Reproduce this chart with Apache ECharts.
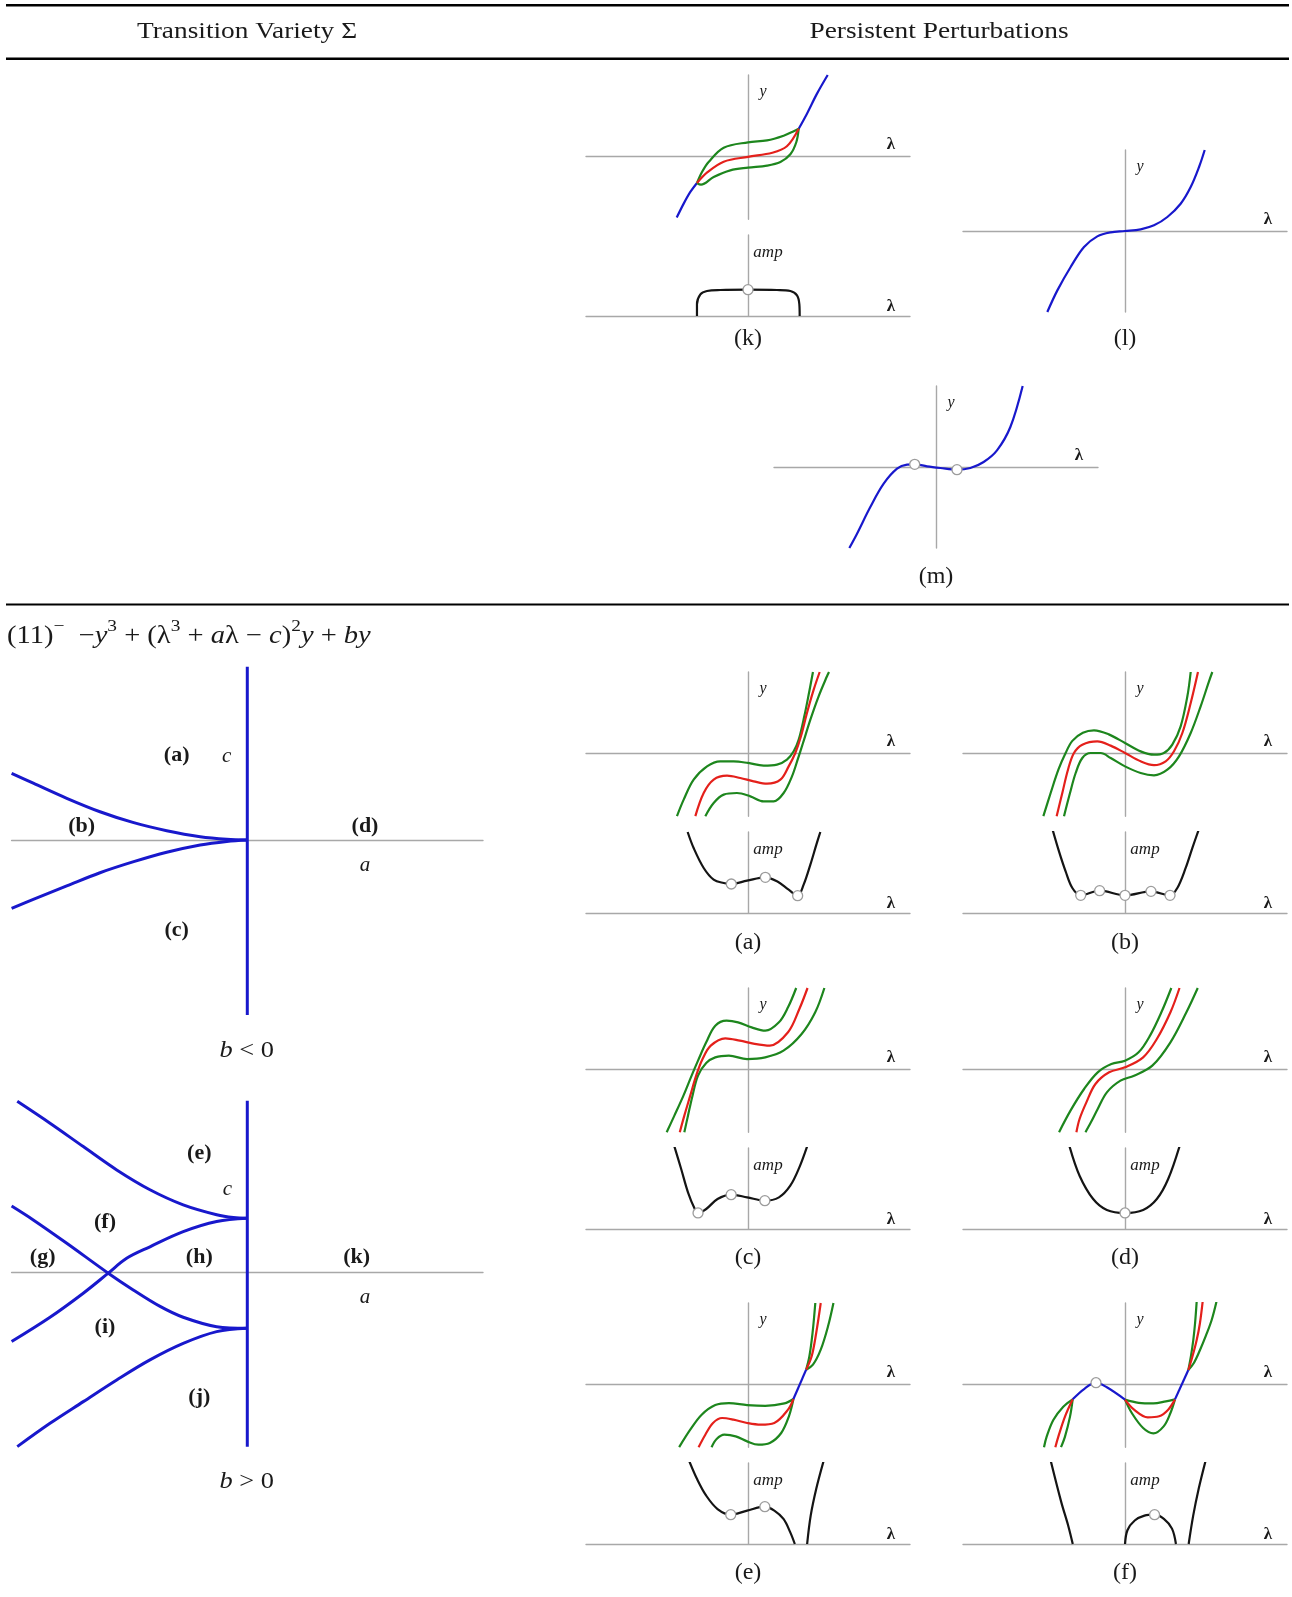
<!DOCTYPE html>
<html>
<head>
<meta charset="utf-8">
<script src="https://cdn.jsdelivr.net/npm/echarts/dist/echarts.min.js"></script>
<style>
  html, body { margin: 0; padding: 0; background: #fff; }
  #fig { width: 1292px; height: 1597px; }
</style>
</head>
<body>
<div id="fig"></div>
<script>
// ---------- curve samples (lambda, y) / (lambda, amp) in axis units ----------
// (k) symmetric loop
const kBlueLeft  = [[-0.88,-0.76],[-0.794,-0.588],[-0.712,-0.444],[-0.63,-0.333]];
const kBlueRight = [[0.626,0.337],[0.728,0.523],[0.852,0.77],[0.984,1.0]];
const kGreenUp   = [[-0.63,-0.333],[-0.568,-0.198],[-0.486,-0.074],[-0.3,0.103],[0,0.169],[0.235,0.193],[0.44,0.251],[0.564,0.305],[0.626,0.337]];
const kGreenLow  = [[-0.63,-0.333],[-0.58,-0.354],[-0.424,-0.259],[-0.218,-0.177],[0,-0.144],[0.235,-0.119],[0.4,-0.074],[0.523,0.021],[0.597,0.173],[0.626,0.337]];
const kRed       = [[-0.63,-0.333],[-0.5,-0.2],[-0.3,-0.07],[0,-0.01],[0.3,0.04],[0.48,0.12],[0.626,0.337]];
const kAmp       = [[-0.63,0],[-0.63,0.144],[-0.588,0.267],[-0.506,0.309],[-0.342,0.321],[0,0.325],[0.358,0.321],[0.523,0.309],[0.605,0.255],[0.634,0.144],[0.638,0]];
const kAmpDots   = [[0,0.325]];
// (l)
const lBlue = [[-0.959,-1.0],[-0.835,-0.733],[-0.671,-0.444],[-0.506,-0.198],[-0.342,-0.066],[-0.177,-0.016],[0,0],[0.193,0.021],[0.358,0.07],[0.523,0.173],[0.687,0.337],[0.811,0.543],[0.914,0.79],[0.984,1.0]];
// (m)
const mBlue = [[-1.07,-1.0],[-0.975,-0.823],[-0.811,-0.494],[-0.646,-0.206],[-0.481,-0.021],[-0.358,0.029],[-0.263,0.033],[-0.111,0.008],[0.053,-0.012],[0.259,-0.033],[0.424,-0.012],[0.588,0.062],[0.753,0.206],[0.918,0.494],[1.07,1.0]];
const mDots = [[-0.263,0.033],[0.259,-0.033]];
// (a)
const aGreenUp  = [[-0.877,-0.78],[-0.794,-0.576],[-0.671,-0.329],[-0.506,-0.165],[-0.342,-0.103],[-0.177,-0.103],[0,-0.123],[0.193,-0.156],[0.358,-0.144],[0.481,-0.082],[0.564,0.021],[0.626,0.165],[0.695,0.453],[0.753,0.741],[0.802,1.0]];
const aRed      = [[-0.65,-0.78],[-0.547,-0.494],[-0.424,-0.329],[-0.259,-0.28],[-0.095,-0.309],[0.07,-0.35],[0.235,-0.379],[0.4,-0.329],[0.502,-0.165],[0.584,0],[0.654,0.206],[0.728,0.494],[0.811,0.782],[0.885,1.0]];
const aGreenLow = [[-0.527,-0.78],[-0.424,-0.617],[-0.3,-0.514],[-0.136,-0.494],[0.029,-0.535],[0.193,-0.597],[0.317,-0.597],[0.44,-0.494],[0.543,-0.288],[0.613,-0.082],[0.679,0.123],[0.77,0.412],[0.872,0.7],[0.975,0.947],[1.0,1.0]];
const aAmp      = [[-0.745,1.0],[-0.671,0.802],[-0.547,0.556],[-0.424,0.412],[-0.3,0.37],[-0.206,0.358],[-0.012,0.399],[0.214,0.44],[0.358,0.391],[0.502,0.288],[0.613,0.214],[0.687,0.35],[0.77,0.597],[0.844,0.844],[0.893,1.0]];
const aAmpDots  = [[-0.206,0.358],[0.214,0.44],[0.613,0.214]];
// (b)
const bGreenUp  = [[-1.008,-0.78],[-0.918,-0.494],[-0.82,-0.2],[-0.733,0],[-0.65,0.15],[-0.52,0.25],[-0.383,0.28],[-0.2,0.23],[0,0.123],[0.193,0.02],[0.358,-0.021],[0.48,0],[0.584,0.103],[0.687,0.329],[0.77,0.7],[0.811,1.0]];
const bRed      = [[-0.844,-0.78],[-0.774,-0.494],[-0.704,-0.206],[-0.63,0],[-0.527,0.103],[-0.342,0.144],[-0.177,0.091],[0,0],[0.193,-0.103],[0.358,-0.15],[0.502,-0.103],[0.605,0.021],[0.708,0.247],[0.811,0.617],[0.901,1.0]];
const bGreenLow = [[-0.753,-0.78],[-0.679,-0.494],[-0.609,-0.247],[-0.527,-0.062],[-0.424,0],[-0.3,0],[-0.177,-0.062],[0,-0.165],[0.193,-0.247],[0.358,-0.275],[0.523,-0.206],[0.667,-0.041],[0.811,0.247],[0.934,0.576],[1.037,0.885],[1.078,1.0]];
const bAmp      = [[-0.897,1.04],[-0.815,0.761],[-0.733,0.514],[-0.65,0.309],[-0.547,0.218],[-0.313,0.276],[0,0.218],[0.321,0.267],[0.556,0.218],[0.646,0.309],[0.749,0.556],[0.831,0.802],[0.914,1.04]];
const bAmpDots  = [[-0.547,0.218],[-0.313,0.276],[0,0.218],[0.321,0.267],[0.556,0.218]];
// (c)
const cGreenUp  = [[-1.004,-0.78],[-0.909,-0.576],[-0.797,-0.329],[-0.696,-0.082],[-0.617,0.103],[-0.516,0.329],[-0.404,0.535],[-0.264,0.597],[-0.123,0.576],[0.045,0.514],[0.213,0.473],[0.382,0.576],[0.494,0.761],[0.595,1.0]];
const cRed      = [[-0.842,-0.78],[-0.786,-0.576],[-0.713,-0.329],[-0.64,-0.082],[-0.561,0.123],[-0.46,0.288],[-0.28,0.379],[-0.1,0.35],[0.08,0.31],[0.269,0.288],[0.494,0.453],[0.634,0.741],[0.735,1.0]];
const cGreenLow = [[-0.786,-0.78],[-0.741,-0.576],[-0.685,-0.329],[-0.617,-0.082],[-0.516,0.074],[-0.404,0.144],[-0.236,0.165],[-0.011,0.123],[0.213,0.144],[0.438,0.226],[0.662,0.432],[0.83,0.7],[0.943,1.0]];
const cAmp      = [[-0.909,1.02],[-0.825,0.741],[-0.741,0.453],[-0.657,0.247],[-0.617,0.198],[-0.516,0.247],[-0.376,0.37],[-0.208,0.424],[-0.011,0.391],[0.208,0.35],[0.382,0.391],[0.522,0.535],[0.634,0.761],[0.73,1.02]];
const cAmpDots  = [[-0.617,0.198],[-0.208,0.424],[0.208,0.35]];
// (d)
const dGreenUp  = [[-0.814,-0.78],[-0.673,-0.514],[-0.505,-0.247],[-0.337,-0.041],[-0.168,0.062],[0,0.103],[0.168,0.206],[0.309,0.412],[0.449,0.7],[0.572,1.0]];
const dRed      = [[-0.6,-0.78],[-0.561,-0.617],[-0.477,-0.412],[-0.365,-0.185],[-0.196,-0.041],[0,0.021],[0.224,0.144],[0.393,0.37],[0.561,0.7],[0.673,1.0]];
const dGreenLow = [[-0.488,-0.78],[-0.421,-0.658],[-0.337,-0.494],[-0.224,-0.288],[-0.056,-0.144],[0.112,-0.082],[0.337,0.041],[0.561,0.329],[0.758,0.7],[0.898,1.0]];
const dAmp      = [[-0.685,1.02],[-0.561,0.658],[-0.393,0.37],[-0.224,0.235],[0,0.198],[0.224,0.235],[0.393,0.37],[0.533,0.617],[0.673,1.02]];
const dAmpDots  = [[0,0.198]];
// (e)
const eBlue       = [[0.561,-0.185],[0.718,0.177]];
const eGreenSteep = [[0.718,0.177],[0.758,0.342],[0.797,0.63],[0.831,1.0]];
const eRedUp      = [[0.718,0.177],[0.786,0.342],[0.842,0.63],[0.898,1.0]];
const eGreenWide  = [[0.718,0.177],[0.802,0.239],[0.898,0.424],[0.988,0.712],[1.055,1.0]];
const eGreenA     = [[0.561,-0.185],[0.45,-0.24],[0.213,-0.27],[-0.011,-0.26],[-0.236,-0.236],[-0.404,-0.26],[-0.572,-0.379],[-0.713,-0.564],[-0.85,-0.78]];
const eRed        = [[0.561,-0.185],[0.494,-0.317],[0.325,-0.481],[0.157,-0.502],[-0.011,-0.481],[-0.18,-0.44],[-0.32,-0.42],[-0.432,-0.481],[-0.527,-0.626],[-0.61,-0.78]];
const eGreenB     = [[0.561,-0.185],[0.505,-0.399],[0.41,-0.605],[0.269,-0.728],[0.129,-0.749],[-0.011,-0.708],[-0.152,-0.646],[-0.292,-0.626],[-0.387,-0.679],[-0.45,-0.78]];
const eAmpLeft    = [[-0.724,1.02],[-0.629,0.802],[-0.516,0.597],[-0.376,0.432],[-0.213,0.362],[-0.011,0.412],[0.208,0.461],[0.325,0.412],[0.438,0.309],[0.522,0.144],[0.578,0]];
const eAmpRight   = [[0.73,0],[0.774,0.35],[0.842,0.679],[0.932,1.02]];
const eAmpDots    = [[-0.213,0.362],[0.208,0.461]];
// (f)
const fBlueLeft   = [[-0.646,-0.189],[-0.505,-0.062],[-0.358,0.016],[-0.224,-0.041],[0,-0.193]];
const fBlueRight  = [[0.617,-0.19],[0.782,0.173]];
const fDots       = [[-0.358,0.016]];
const fGreenSteep = [[0.782,0.173],[0.815,0.35],[0.843,0.543],[0.865,0.75],[0.885,1.02]];
const fRedUp      = [[0.782,0.173],[0.83,0.33],[0.885,0.543],[0.925,0.75],[0.959,1.02]];
const fGreenWide  = [[0.782,0.173],[0.85,0.26],[0.926,0.42],[1.0,0.6],[1.07,0.79],[1.13,1.02]];
const fGreenMidA  = [[0,-0.193],[0.168,-0.232],[0.35,-0.24],[0.505,-0.214],[0.617,-0.19]];
const fRedMid     = [[0,-0.193],[0.112,-0.317],[0.281,-0.412],[0.421,-0.399],[0.533,-0.317],[0.617,-0.19]];
const fGreenMidB  = [[0,-0.193],[0.084,-0.358],[0.224,-0.543],[0.35,-0.61],[0.477,-0.523],[0.561,-0.358],[0.617,-0.19]];
const fGreenLeftA = [[-0.646,-0.189],[-0.762,-0.28],[-0.885,-0.444],[-0.967,-0.65],[-1.0,-0.78]];
const fRedLeft    = [[-0.646,-0.189],[-0.741,-0.403],[-0.823,-0.65],[-0.86,-0.78]];
const fGreenLeftB = [[-0.646,-0.189],[-0.679,-0.403],[-0.741,-0.65],[-0.79,-0.78]];
const fAmpLeft    = [[-0.915,1.02],[-0.786,0.514],[-0.701,0.226],[-0.645,0]];
const fAmpArch    = [[0,0],[0.03,0.17],[0.12,0.29],[0.24,0.35],[0.365,0.362],[0.48,0.31],[0.58,0.19],[0.629,0]];
const fAmpRight   = [[0.786,0],[0.842,0.35],[0.909,0.679],[0.993,1.02]];
const fAmpDots    = [[0.365,0.362]];
// transition varieties in the (a, c) plane
const negUpper = [[-1,0.283],[-0.908,0.241],[-0.766,0.177],[-0.625,0.12],[-0.482,0.0735],[-0.342,0.0396],[-0.2,0.014],[-0.087,0.003],[0,0]];
const negLower = [[-1,-0.29],[-0.908,-0.252],[-0.766,-0.195],[-0.625,-0.139],[-0.482,-0.092],[-0.342,-0.052],[-0.2,-0.021],[-0.087,-0.006],[0,0]];
const negStem  = [[0,0.735],[0,-0.742]];
const posTop        = [[-0.976,0.727],[-0.837,0.634],[-0.696,0.535],[-0.554,0.436],[-0.413,0.352],[-0.272,0.288],[-0.13,0.246],[-0.059,0.234],[0,0.231]];
const posUpperCross = [[0,0.231],[-0.13,0.217],[-0.272,0.174],[-0.413,0.11],[-0.512,0.061],[-0.59,-0.002],[-0.696,-0.087],[-0.837,-0.189],[-1,-0.292]];
const posLowerCross = [[0,-0.236],[-0.13,-0.229],[-0.272,-0.189],[-0.37,-0.143],[-0.484,-0.073],[-0.59,-0.002],[-0.766,0.125],[-0.908,0.224],[-1,0.283]];
const posBottom     = [[0,-0.236],[-0.13,-0.25],[-0.272,-0.3],[-0.413,-0.37],[-0.554,-0.455],[-0.696,-0.547],[-0.837,-0.639],[-0.976,-0.738]];
const posStem       = [[0,0.73],[0,-0.738]];

// ---------- styling / layout ----------
const COL = { blue: '#1818cc', green: '#1d861d', red: '#e4201b', black: '#141414', axis: '#a8a8a8', dot: '#9c9c9c', text: '#1a1a1a' };
const U = 81;                     // pixels per axis unit in the small panels
const XR = [-2, 2], YR = [-0.78, 1], YR2 = [-1, 1], AR = [0, 1];
const SERIF = '"Liberation Serif", "DejaVu Serif", serif';

const grids = [], xAxes = [], yAxes = [], series = [], graphics = [];

function addGrid(left, top, width, height, xr, yr, showY) {
  const i = grids.length;
  grids.push({ left, top, width, height, containLabel: false });
  const line = { show: true, onZero: true, lineStyle: { color: COL.axis, width: 1.4 } };
  xAxes.push({ gridIndex: i, type: 'value', min: xr[0], max: xr[1], axisLine: line,
    axisTick: { show: false }, axisLabel: { show: false }, splitLine: { show: false } });
  yAxes.push({ gridIndex: i, type: 'value', min: yr[0], max: yr[1],
    axisLine: Object.assign({}, line, { show: showY !== false }),
    axisTick: { show: false }, axisLabel: { show: false }, splitLine: { show: false } });
  return i;
}
function curve(i, data, color, width) {
  series.push({ type: 'line', xAxisIndex: i, yAxisIndex: i, data, smooth: 0.35, symbol: 'none',
    lineStyle: { color, width: width || 2.2 }, silent: true, z: 3 });
}
function points(i, data) {
  if (!data || !data.length) return;
  series.push({ type: 'scatter', xAxisIndex: i, yAxisIndex: i, data, symbol: 'circle', symbolSize: 10,
    itemStyle: { color: '#fff', borderColor: COL.dot, borderWidth: 1.3, opacity: 1 }, silent: true, z: 6 });
}
function text(x, y, str, font, extra, el) {
  graphics.push(Object.assign({ type: 'text', x, y, z: 10, silent: true,
    style: Object.assign({ text: str, font, fill: COL.text, textAlign: 'center', textVerticalAlign: 'middle', verticalAlign: 'middle' }, extra || {}) }, el || {}));
}
function hrule(y, w) {
  graphics.push({ type: 'line', z: 10, silent: true, shape: { x1: 6, y1: y, x2: 1289, y2: y }, style: { stroke: '#000', lineWidth: w } });
}

const F_AX = 'italic 16px ' + SERIF;
const F_AMP = 'italic 17px ' + SERIF;
const F_LAM = 'bold 17px ' + SERIF;
const F_CAP = '24px ' + SERIF;

// state-space panel: curves in (lambda, y)
function yPanel(cx, top, yr, lines, dots) {
  const h = (yr[1] - yr[0]) * U;
  const i = addGrid(cx - 2 * U, top, 4 * U, h, XR, yr);
  lines.forEach(l => curve(i, l[0], l[1]));
  points(i, dots);
  const oy = top + yr[1] * U;
  text(cx + 15, oy - 64, 'y', F_AX);
  text(cx + 143, oy - 11, 'λ', F_LAM);
}
// amplitude panel: curves in (lambda, amp)
function ampPanel(cx, top, lines, dots) {
  const i = addGrid(cx - 2 * U, top, 4 * U, U, XR, AR);
  lines.forEach(l => curve(i, l[0], l[1]));
  points(i, dots);
  const oy = top + U;
  text(cx + 20, oy - 63, 'amp', F_AMP);
  text(cx + 143, oy - 9, 'λ', F_LAM);
}

const C1 = 748, C2 = 1125, CM = 936;
const g = COL.green, r = COL.red, b = COL.blue, k = COL.black;

// row (k) / (l)
yPanel(C1, 75, YR, [[kBlueLeft, b], [kBlueRight, b], [kGreenUp, g], [kGreenLow, g], [kRed, r]]);
ampPanel(C1, 235, [[kAmp, k]], kAmpDots);
text(C1, 339, '(k)', F_CAP);
yPanel(C2, 150, YR2, [[lBlue, b]]);
text(C2, 339, '(l)', F_CAP);
// row (m)
yPanel(CM, 386, YR2, [[mBlue, b]], mDots);
text(CM, 577, '(m)', F_CAP);
// rows (a)-(f)
const ROWS = [
  { top: 672, cap: 943, left: ['(a)', [[aGreenUp, g], [aGreenLow, g], [aRed, r]], [[aAmp, k]], aAmpDots, []],
                        right: ['(b)', [[bGreenUp, g], [bGreenLow, g], [bRed, r]], [[bAmp, k]], bAmpDots, []] },
  { top: 988, cap: 1258, left: ['(c)', [[cGreenUp, g], [cGreenLow, g], [cRed, r]], [[cAmp, k]], cAmpDots, []],
                         right: ['(d)', [[dGreenUp, g], [dGreenLow, g], [dRed, r]], [[dAmp, k]], dAmpDots, []] },
  { top: 1303, cap: 1573,
    left: ['(e)', [[eGreenA, g], [eGreenB, g], [eRed, r], [eGreenSteep, g], [eGreenWide, g], [eRedUp, r], [eBlue, b]],
           [[eAmpLeft, k], [eAmpRight, k]], eAmpDots, []],
    right: ['(f)', [[fGreenMidA, g], [fGreenMidB, g], [fRedMid, r], [fGreenLeftA, g], [fGreenLeftB, g], [fRedLeft, r],
                    [fGreenSteep, g], [fGreenWide, g], [fRedUp, r], [fBlueLeft, b], [fBlueRight, b]],
            [[fAmpLeft, k], [fAmpArch, k], [fAmpRight, k]], fAmpDots, fDots] }
];
ROWS.forEach(row => {
  [[C1, row.left], [C2, row.right]].forEach(([cx, p]) => {
    yPanel(cx, row.top, YR, p[1], p[4]);
    ampPanel(cx, row.top + 160, p[2], p[3]);
    text(cx, row.cap, p[0], F_CAP);
  });
});

// ---------- (a, c) plane diagrams ----------
const AU = 235.7;                 // pixels per unit in the (a, c) plane
const CR = [-0.745, 0.745];
function planePanel(originY, lines) {
  const i = addGrid(247.3 - AU, originY - CR[1] * AU, 2 * AU, (CR[1] - CR[0]) * AU, [-1, 1], CR, false);
  lines.forEach(l => curve(i, l, COL.blue, 3));
}
planePanel(840, [negUpper, negLower, negStem]);
planePanel(1272.7, [posTop, posUpperCross, posLowerCross, posBottom, posStem]);

const F_REG = 'bold 22px ' + SERIF;
const F_VAR = 'italic 21px ' + SERIF;
[['(a)', 176.7, 755], ['(b)', 81.7, 826], ['(c)', 176.7, 930], ['(d)', 365, 826],
 ['(e)', 199.3, 1153], ['(f)', 105, 1222], ['(g)', 42.7, 1257], ['(h)', 199.3, 1257],
 ['(k)', 356.7, 1257], ['(i)', 105, 1327], ['(j)', 199.3, 1397]].forEach(t => text(t[1], t[2], t[0], F_REG));
[['c', 226.7, 756], ['a', 365, 865], ['c', 227.3, 1189], ['a', 365, 1297]].forEach(t => text(t[1], t[2], t[0], F_VAR));

const RICH_B = {
  r: { font: '24px ' + SERIF, fill: COL.text },
  i: { font: 'italic 24px ' + SERIF, fill: COL.text }
};
text(246.7, 1051, '{i|b}{r| < 0}', F_CAP, { rich: RICH_B }, { scaleX: 1.1 });
text(246.7, 1482, '{i|b}{r| > 0}', F_CAP, { rich: RICH_B }, { scaleX: 1.1 });

// ---------- table header, rules and the normal form ----------
hrule(5.3, 2.6);
hrule(58.7, 2.4);
hrule(604.5, 2);
text(247, 32, 'Transition Variety Σ', F_CAP, null, { scaleX: 1.14 });
text(939, 32, 'Persistent Perturbations', F_CAP, null, { scaleX: 1.14 });

// superscripts ride at the top of a tall line box
const RICH_F = {
  r: { font: '25px ' + SERIF, fill: COL.text, lineHeight: 36 },
  i: { font: 'italic 25px ' + SERIF, fill: COL.text, lineHeight: 36 },
  s: { font: '17px ' + SERIF, fill: COL.text, lineHeight: 11, verticalAlign: 'top' }
};
text(7, 636, '{r|(11)}{s|−}{r|  −}{i|y}{s|3}{r| + (λ}{s|3}{r| + }{i|a}{r|λ − }{i|c}{r|)}{s|2}{i|y}{r| + }{i|by}', F_CAP,
     { rich: RICH_F, textAlign: 'left' }, { scaleX: 1.14 });

const chart = echarts.init(document.getElementById('fig'), null, { renderer: 'canvas', width: 1292, height: 1597 });
chart.setOption({
  animation: false,
  backgroundColor: '#ffffff',
  grid: grids,
  xAxis: xAxes,
  yAxis: yAxes,
  series: series,
  graphic: { elements: graphics }
});
</script>
</body>
</html>
